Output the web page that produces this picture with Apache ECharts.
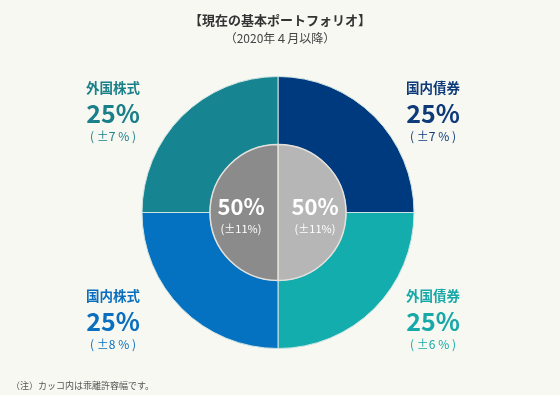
<!DOCTYPE html>
<html><head><meta charset="utf-8">
<script src="https://cdn.jsdelivr.net/npm/echarts@6/dist/echarts.min.js"></script>
<style>html,body{margin:0;padding:0;background:#f6f8f1;}#c{width:560px;height:395px;}</style>
</head><body><div id="c"></div>
<script>
const categories = ['国内債券', '外国債券', '国内株式', '外国株式'];
const weights = [25, 25, 25, 25];
const deviations = ['±7', '±6', '±8', '±7'];
const innerCategories = ['債券', '株式'];
const innerWeights = [50, 50];
const innerDeviations = ['±11', '±11'];

const outerColors = ['#003a7e', '#13adad', '#0572c1', '#168591'];
const textColors = ['#0f3a7a', '#17a8a8', '#0a6fbe', '#1a7f89'];
const innerColors = ['#b6b6b6', '#8b8b8b'];
const labelPos = [[433, 111], [433, 319], [113, 319], [113, 111]];
const FONT = '"Noto Sans CJK JP", "Noto Sans", sans-serif';

const chart = echarts.init(document.getElementById('c'));
chart.setOption({
  backgroundColor: '#f6f8f1',
  animation: false,
  textStyle: { fontFamily: FONT },
  title: [
    { text: '【現在の基本ポートフォリオ】', left: 'center', top: 9,
      textStyle: { fontSize: 13, fontWeight: 'bold', color: '#333', fontFamily: FONT } },
    { text: '（2020年４月以降）', left: 'center', top: 27,
      textStyle: { fontSize: 12, fontWeight: 'normal', color: '#444', fontFamily: FONT } },
    { text: '（注）カッコ内は乖離許容幅です。', left: 6, top: 376,
      textStyle: { fontSize: 9, fontWeight: 'normal', color: '#555', fontFamily: FONT } }
  ],
  series: [
    {
      type: 'pie',
      center: [278, 212.5],
      radius: [68, 136],
      startAngle: 90,
      clockwise: true,
      silent: true,
      itemStyle: { borderColor: '#cfe3e3', borderWidth: 1 },
      labelLine: { show: false },
      label: {
        show: true,
        position: 'outside',
        formatter: p => '{n|' + p.name + '}\n{v|' + p.value + '%}\n{d|( ' + deviations[p.dataIndex] + ' % )}',
        rich: {}
      },
      labelLayout: p => ({ x: labelPos[p.dataIndex][0], y: labelPos[p.dataIndex][1], align: 'center', verticalAlign: 'middle' }),
      data: categories.map((c, i) => {
        const col = textColors[i];
        return {
          name: c, value: weights[i],
          itemStyle: { color: outerColors[i] },
          label: {
            align: 'center',
            rich: {
              n: { fontSize: 13.5, fontWeight: 'bold', color: col, fontFamily: FONT, lineHeight: 22, align: 'center' },
              v: { fontSize: 25, fontWeight: 'bold', color: col, fontFamily: FONT, lineHeight: 28, align: 'center' },
              d: { fontSize: 12, color: col, fontFamily: FONT, lineHeight: 18, align: 'center' }
            }
          }
        };
      })
    },
    {
      type: 'pie',
      center: [278, 212.5],
      radius: [0, 68],
      startAngle: 90,
      clockwise: true,
      silent: true,
      itemStyle: { borderColor: '#e4e0dc', borderWidth: 1.5 },
      labelLine: { show: false },
      label: {
        show: true,
        position: 'inside',
        offset: [0, 4],
        formatter: p => '{v|' + p.value + '%}\n{d|(' + innerDeviations[p.dataIndex] + '%)}',
        rich: {
          v: { fontSize: 22, fontWeight: 'bold', color: '#fff', fontFamily: FONT, lineHeight: 24, align: 'center' },
          d: { fontSize: 11, color: '#fff', fontFamily: FONT, lineHeight: 20, align: 'center' }
        }
      },
      data: innerCategories.map((c, i) => ({ name: c, value: innerWeights[i], itemStyle: { color: innerColors[i] } }))
    }
  ]
});
</script></body></html>
